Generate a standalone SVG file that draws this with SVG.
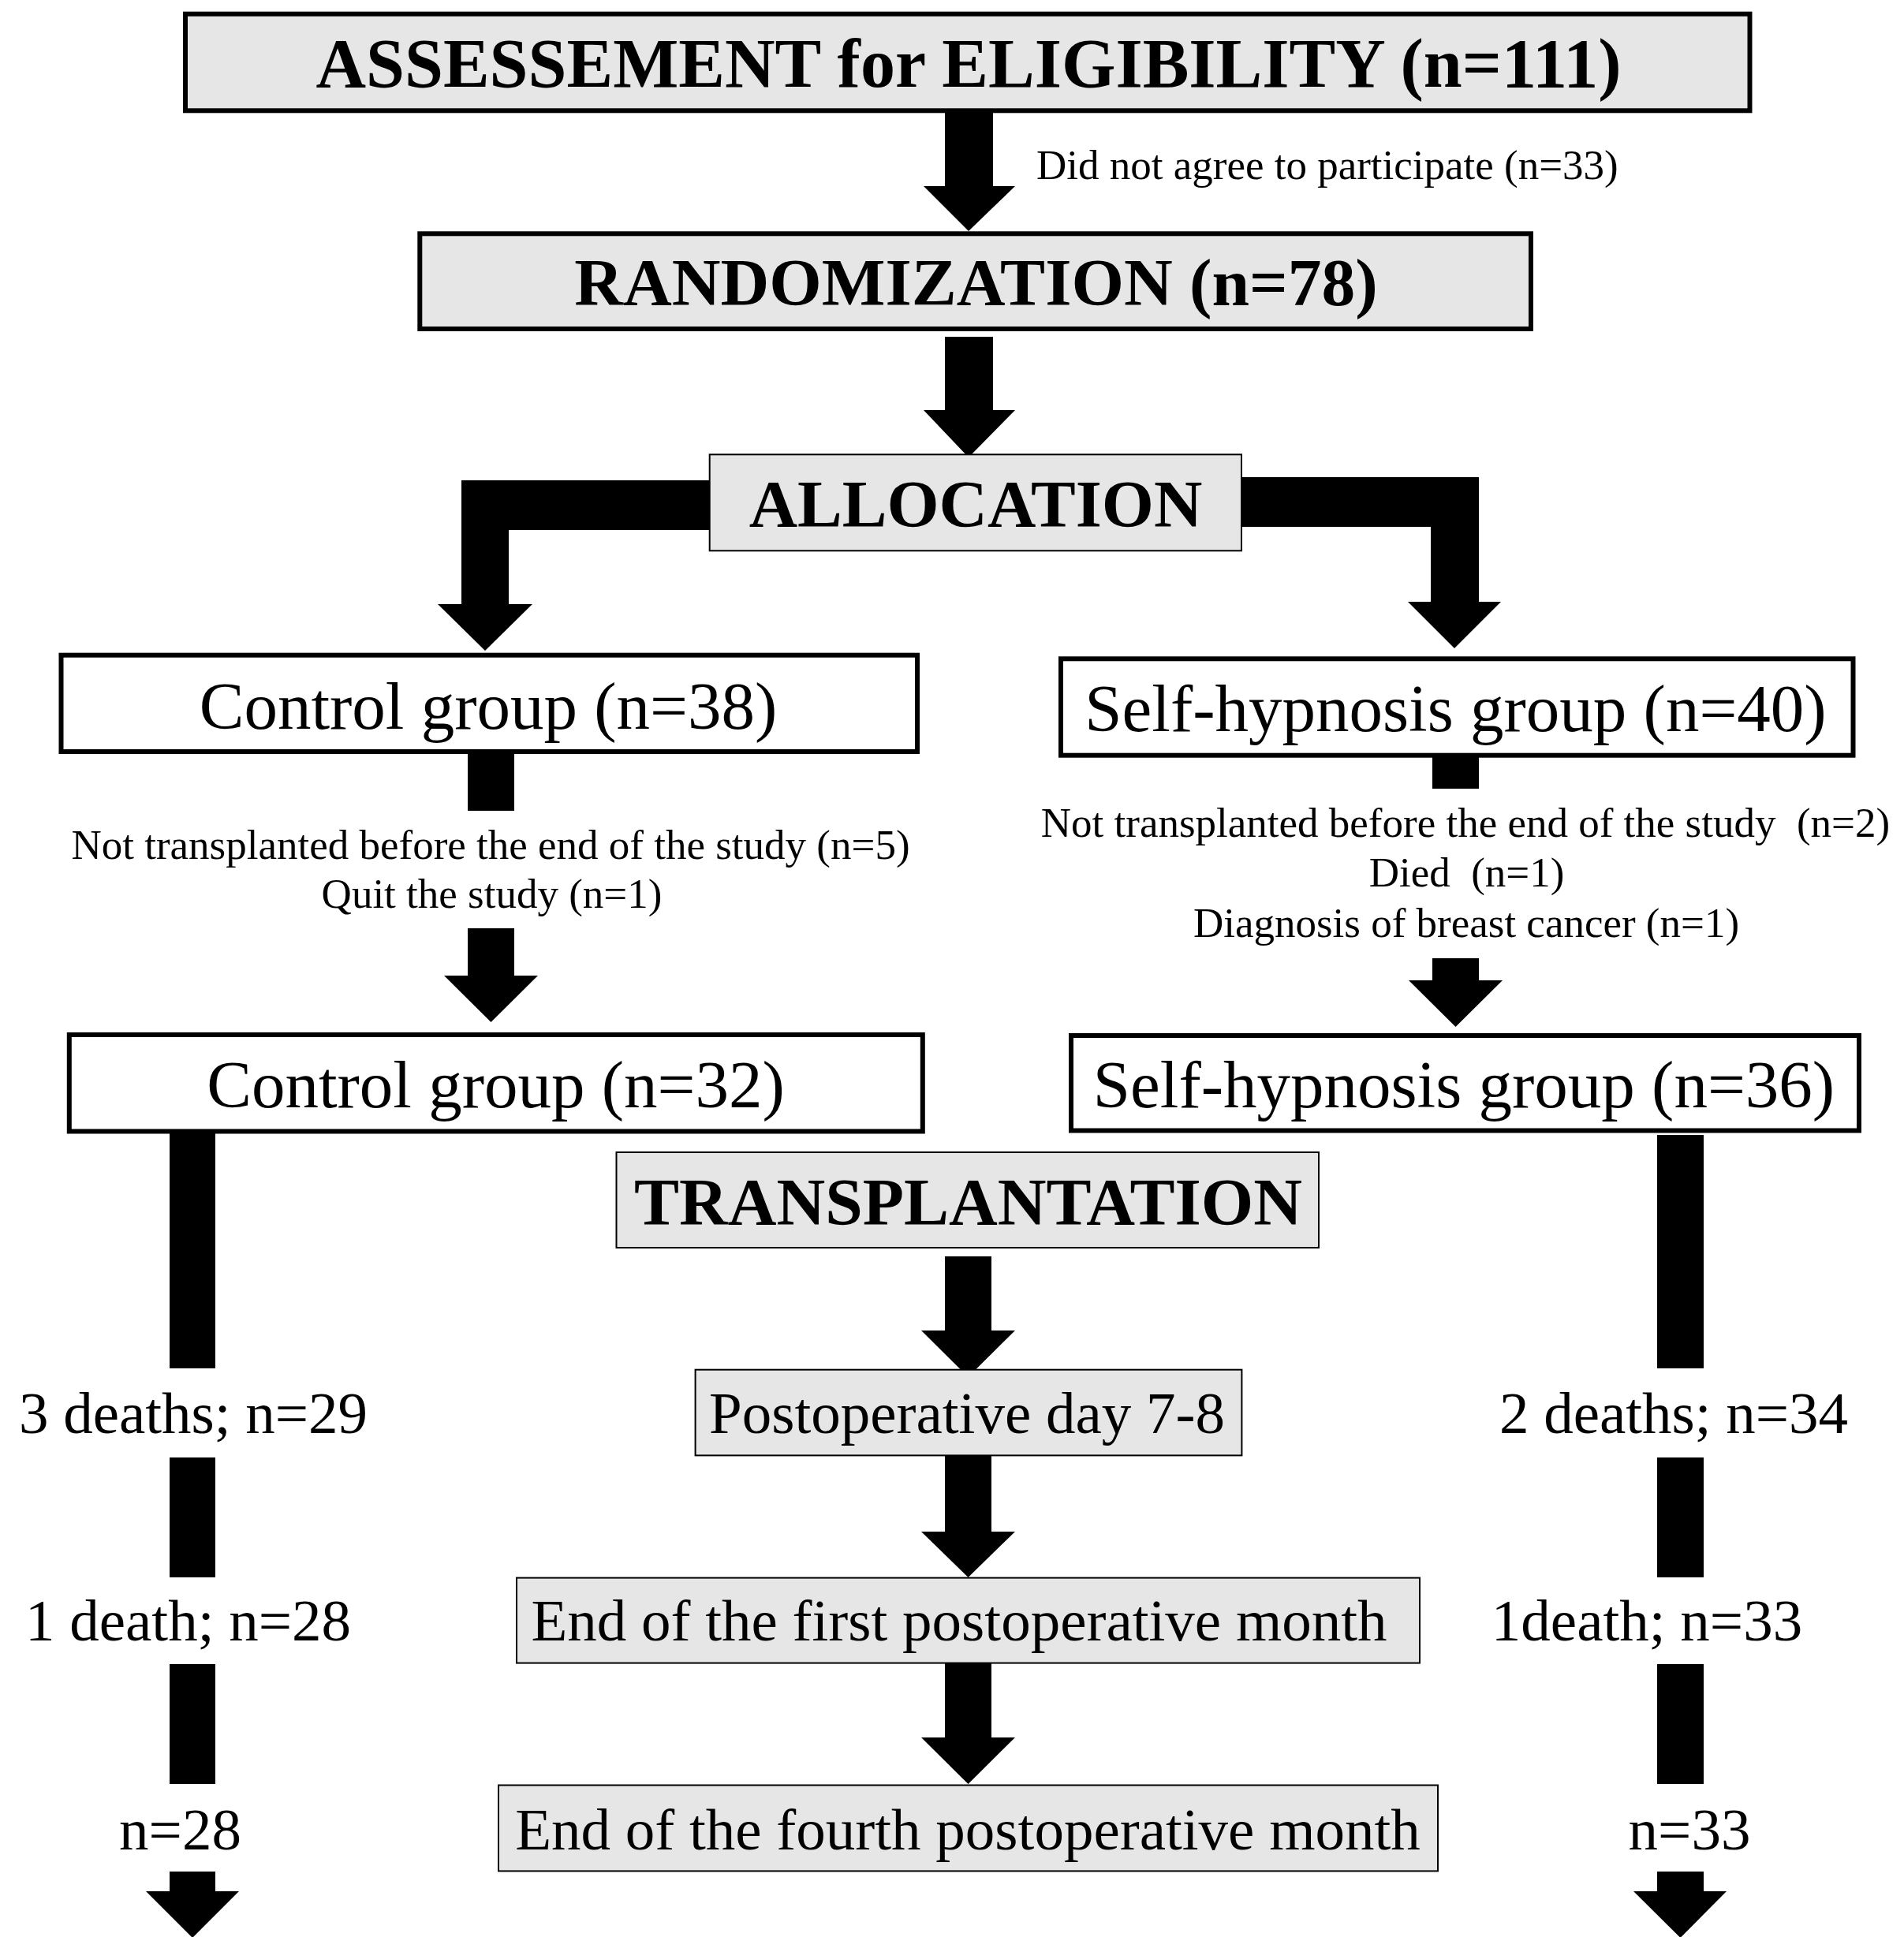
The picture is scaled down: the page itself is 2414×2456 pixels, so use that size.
<svg xmlns="http://www.w3.org/2000/svg" width="2414" height="2456" viewBox="0 0 2414 2456">
<style>
text{font-family:"Liberation Serif","Times New Roman",serif;fill:#000}
.b{font-weight:bold;text-anchor:middle}
.big{font-size:85px;text-anchor:middle}
.mid{font-size:75px;text-anchor:middle}
.sm{font-size:53px;text-anchor:middle}
.thick{fill:#fff;stroke:#000;stroke-width:6}
.thickg{fill:#e6e6e6;stroke:#000;stroke-width:6}
.thin{fill:#e6e6e6;stroke:#000;stroke-width:2}
.c{fill:#000;stroke:none}
</style>
<rect width="2414" height="2456" fill="#fff"/>
<g id="connectors">
<polygon class="c" points="1198,143 1259,143 1259,236 1287,236 1228,293 1171,236 1198,236"/>
<polygon class="c" points="1198,427 1259,427 1259,520 1287,520 1228,580 1171,520 1198,520"/>
<polygon class="c" points="899,609 585,609 585,766 555,766 615,825 675,766 645,766 645,672 899,672"/>
<polygon class="c" points="1575,605 1875,605 1875,763 1903,763 1844,822 1785,763 1814,763 1814,668 1575,668"/>
<rect class="c" x="593" y="956" width="59" height="72"/>
<polygon class="c" points="593,1177 652,1177 652,1237 682,1237 622.5,1296 563,1237 593,1237"/>
<rect class="c" x="1816" y="960" width="59" height="40"/>
<polygon class="c" points="1816,1215 1875,1215 1875,1243 1905,1243 1845.5,1302 1786,1243 1816,1243"/>
<rect class="c" x="215" y="1437" width="58" height="298"/>
<rect class="c" x="215" y="1848" width="58" height="152"/>
<rect class="c" x="215" y="2110" width="58" height="152"/>
<polygon class="c" points="215,2373 273,2373 273,2398 303,2398 244,2457 185,2398 215,2398"/>
<rect class="c" x="2101" y="1439" width="59" height="296"/>
<rect class="c" x="2101" y="1848" width="59" height="152"/>
<rect class="c" x="2101" y="2110" width="59" height="152"/>
<polygon class="c" points="2101,2373 2160,2373 2160,2398 2189,2398 2130.5,2457 2071,2398 2101,2398"/>
<polygon class="c" points="1198,1593 1257,1593 1257,1687 1287,1687 1227.5,1746 1168,1687 1198,1687"/>
<polygon class="c" points="1198,1846 1257,1846 1257,1942 1287,1942 1227.5,2000 1168,1942 1198,1942"/>
<polygon class="c" points="1198,2109 1257,2109 1257,2203 1287,2203 1227.5,2262 1168,2203 1198,2203"/>
</g>
<g id="assessment">
<rect class="thickg" x="235" y="17.7" width="1983.5" height="122.6"/>
<text class="b" x="1228" y="110" font-size="88">ASSESSEMENT for ELIGIBILITY (n=111)</text>
</g>
<g id="declined">
<text x="1314" y="227" font-size="53">Did not agree to participate (n=33)</text>
</g>
<g id="randomization">
<rect class="thickg" x="532.3" y="296.3" width="1408.7" height="120.7"/>
<text class="b" x="1237.5" y="387" font-size="85.5">RANDOMIZATION (n=78)</text>
</g>
<g id="allocation">
<rect class="thin" x="899.7" y="576.3" width="674.3" height="122"/>
<text class="b" x="1237" y="668" font-size="85">ALLOCATION</text>
</g>
<g id="control1">
<rect class="thick" x="77.5" y="830.7" width="1085.5" height="122.3"/>
<text class="big" x="619" y="924">Control group (n=38)</text>
</g>
<g id="self1">
<rect class="thick" x="1345" y="835.3" width="1004.5" height="122.4"/>
<text class="big" x="1845.5" y="927">Self-hypnosis group (n=40)</text>
</g>
<g id="control-exclusions">
<text class="sm" x="622" y="1089">Not transplanted before the end of the study (n=5)</text>
<text class="sm" x="623.5" y="1151">Quit the study (n=1)</text>
</g>
<g id="self-exclusions">
<text class="sm" x="1858" y="1061" xml:space="preserve">Not transplanted before the end of the study  (n=2)</text>
<text class="sm" x="1859.5" y="1124" xml:space="preserve">Died  (n=1)</text>
<text class="sm" x="1859" y="1188">Diagnosis of breast cancer (n=1)</text>
</g>
<g id="control2">
<rect class="thick" x="87.8" y="1312" width="1082" height="122.5"/>
<text class="big" x="628.5" y="1404">Control group (n=32)</text>
</g>
<g id="self2">
<rect class="thick" x="1358" y="1313" width="999" height="120.5"/>
<text class="big" x="1856" y="1404">Self-hypnosis group (n=36)</text>
</g>
<g id="transplantation">
<rect class="thin" x="781.5" y="1461" width="890.5" height="121"/>
<text class="b" x="1227.5" y="1553" font-size="85.5">TRANSPLANTATION</text>
</g>
<g id="day7">
<rect class="thin" x="881.6" y="1736.7" width="692.8" height="108.7"/>
<text class="mid" x="1226" y="1817">Postoperative day 7-8</text>
</g>
<g id="month1">
<rect class="thin" x="655" y="2000.6" width="1145" height="108"/>
<text class="mid" x="1216" y="2080">End of the first postoperative month</text>
</g>
<g id="month4">
<rect class="thin" x="632" y="2263.5" width="1191" height="108.9"/>
<text class="mid" x="1227" y="2345">End of the fourth postoperative month</text>
</g>
<g id="control-counts">
<text class="mid" x="245" y="1817">3 deaths; n=29</text>
<text class="mid" x="238.5" y="2080">1 death; n=28</text>
<text class="mid" x="228.5" y="2345">n=28</text>
</g>
<g id="self-counts">
<text class="mid" x="2122" y="1817">2 deaths; n=34</text>
<text class="mid" x="2088" y="2080">1death; n=33</text>
<text class="mid" x="2142" y="2345">n=33</text>
</g>
</svg>
